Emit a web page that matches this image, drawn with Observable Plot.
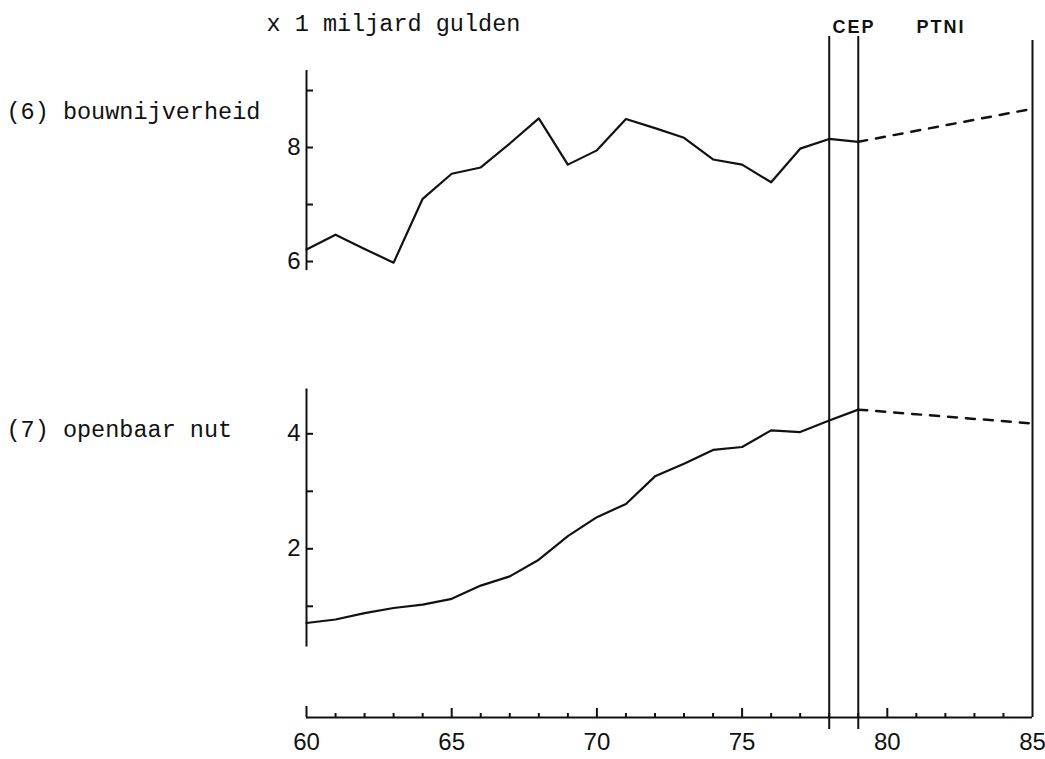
<!DOCTYPE html>
<html><head><meta charset="utf-8">
<script src="https://cdn.jsdelivr.net/npm/d3@7"></script>
<script src="https://cdn.jsdelivr.net/npm/@observablehq/plot@0.6"></script>
<style>
body{margin:0;background:#fff;}
#wrap{position:relative;width:1045px;height:759px;overflow:hidden;}
#wrap svg{position:absolute;left:0;top:0;background:transparent;}
</style></head><body><div id="wrap"></div>
<script>
// ---- data ----
const years = [60,61,62,63,64,65,66,67,68,69,70,71,72,73,74,75,76,77,78,79];
const bouwnijverheid = [6.21,6.47,6.22,5.98,7.10,7.54,7.65,8.07,8.51,7.70,7.95,8.50,8.34,8.17,7.79,7.70,7.39,7.98,8.15,8.10];
const openbaarNut   = [0.71,0.77,0.88,0.97,1.03,1.13,1.36,1.52,1.81,2.22,2.55,2.78,3.26,3.48,3.72,3.77,4.06,4.03,4.23,4.42];
const projYears = [79, 85];
const bouwProj = [8.10, 8.68];
const nutProj  = [4.42, 4.18];
const xTickLabels = [60,65,70,75,80,85];
const xMinorTicks = [61,62,63,64,66,67,68,69,71,72,73,74,76,77,78,79,81,82,83,84];
const xMajorTicks = [65,70,75,80];
const cepYears = [78, 79];
const ptniEnd = [85];
const periodLabels = ["CEP", "PTNI"];
const periodLabelX = [78.85, 81.85];
const topTicks = [6,7,8,9];
const topTickLabels = [6,8];
const botTicks = [1,2,3,4];
const botTickLabels = [2,4];
const titleText = "x 1 miljard gulden";
const seriesNames = ["(6) bouwnijverheid", "(7) openbaar nut"];

// ---- layout ----
const W = 1045, H = 759, mL = 306, mR = 13, mT = 30, mB = 42;
const frameW = W - mL - mR, frameH = H - mT - mB;
const common = {
  width: W, height: H, marginLeft: mL, marginRight: mR, marginTop: mT, marginBottom: mB,
  x: {domain: [60, 85]},
  style: {background: "transparent", fontFamily: "'Liberation Sans', Arial, sans-serif", fontSize: "24px", color: "#000", overflow: "visible"}
};
const mono = "'Liberation Mono', 'Courier New', monospace";
const ink = "#111";
const fmt = d => String(d);

const toRows = (xs, vs) => xs.map((x, i) => ({x, v: vs[i]}));

// bottom panel (openbaar nut) + shared x axis + period lines
const plotB = Plot.plot({
  ...common,
  y: {domain: [-0.934, 11.014], axis: null},
  marks: [
    // x axis baseline
    Plot.ruleY([-0.934], {x1: 60, x2: 85, stroke: ink, strokeWidth: 2}),
    Plot.tickX(xMinorTicks, {x: d => d, insetTop: frameH - 4, stroke: ink, strokeWidth: 2}),
    Plot.tickX(xMajorTicks, {x: d => d, insetTop: frameH - 9, stroke: ink, strokeWidth: 2}),
    Plot.tickX([60], {x: d => d, insetTop: frameH - 11, stroke: ink, strokeWidth: 2}),
    Plot.axisX(xTickLabels, {tickSize: 0, tickPadding: 15, label: null, tickFormat: fmt,
      fontSize: 24, fill: ink}),
    // period lines
    Plot.ruleX(cepYears, {x: d => d, insetTop: 6, insetBottom: -12, stroke: ink, strokeWidth: 2}),
    Plot.ruleX(ptniEnd, {x: d => d, insetTop: 10, stroke: ink, strokeWidth: 2}),
    Plot.text(periodLabels, {x: (d, i) => periodLabelX[i], text: d => d, frameAnchor: "top", dy: -10,
      fontWeight: "bold", fontSize: 18, fill: ink}),
    // title
    Plot.text([titleText], {text: d => d, frameAnchor: "top-left", dx: -40, dy: -16,
      textAnchor: "start", fontFamily: mono, fontSize: 23.5, fill: ink}),
    // y axis
    Plot.ruleX([60], {y1: 0.29, y2: 4.78, stroke: ink, strokeWidth: 2}),
    Plot.tickY(botTicks, {y: d => d, insetRight: frameW - 7, stroke: ink, strokeWidth: 2}),
    Plot.axisY(botTickLabels, {tickSize: 0, tickPadding: 6, label: null, tickFormat: fmt,
      fontSize: 24, fill: ink}),
    // series
    Plot.line(toRows(years, openbaarNut), {x: "x", y: "v", stroke: ink, strokeWidth: 2.2}),
    Plot.line(toRows(projYears, nutProj), {x: "x", y: "v", stroke: ink, strokeWidth: 2.5, strokeDasharray: "9,9"}),
    Plot.text([seriesNames[1]], {text: d => d, x: 60, y: 4.08, dx: -300, textAnchor: "start",
      fontFamily: mono, fontSize: 23.5, fill: ink})
  ]
});

// top panel (bouwnijverheid)
const plotA = Plot.plot({
  ...common,
  x: {domain: [60, 85], axis: null},
  y: {domain: [-2, 10.053], axis: null},
  marks: [
    Plot.ruleX([60], {y1: 5.84, y2: 9.35, stroke: ink, strokeWidth: 2}),
    Plot.tickY(topTicks, {y: d => d, insetRight: frameW - 7, stroke: ink, strokeWidth: 2}),
    Plot.axisY(topTickLabels, {tickSize: 0, tickPadding: 6, label: null, tickFormat: fmt,
      fontSize: 24, fill: ink}),
    Plot.line(toRows(years, bouwnijverheid), {x: "x", y: "v", stroke: ink, strokeWidth: 2.2}),
    Plot.line(toRows(projYears, bouwProj), {x: "x", y: "v", stroke: ink, strokeWidth: 2.5, strokeDasharray: "9,9"}),
    Plot.text([seriesNames[0]], {text: d => d, x: 60, y: 8.63, dx: -300, textAnchor: "start",
      fontFamily: mono, fontSize: 23.5, fill: ink})
  ]
});

// letter-spacing for the bold period labels
d3.select(plotB).selectAll("text").filter(function() { return periodLabels.includes(this.textContent); })
  .style("letter-spacing", "2px");

const wrap = document.getElementById("wrap");
wrap.appendChild(plotB);
wrap.appendChild(plotA);
</script>
</body></html>
